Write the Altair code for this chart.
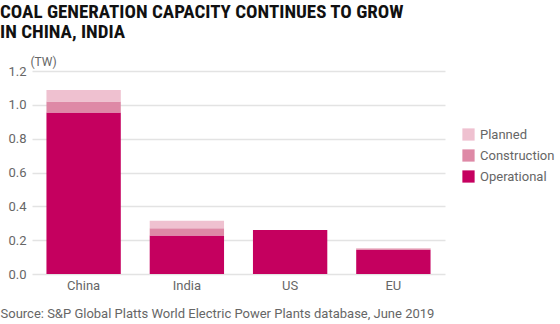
import altair as alt
import pandas as pd

countries = ["China", "India", "US", "EU"]
operational = [0.955, 0.228, 0.26, 0.144]
construction = [0.065, 0.042, 0.0, 0.007]
planned = [0.067, 0.045, 0.0, 0.003]
statuses = ["Planned", "Construction", "Operational"]
colors = ["#EFC1D0", "#DE89A6", "#C5005F"]

rows = []
for i, c in enumerate(countries):
    rows.append({"country": c, "status": "Operational", "value": operational[i], "ord": 0})
    rows.append({"country": c, "status": "Construction", "value": construction[i], "ord": 1})
    rows.append({"country": c, "status": "Planned", "value": planned[i], "ord": 2})
df = pd.DataFrame(rows)

font = "Roboto"
gray = "#666666"

chart = alt.Chart(df).mark_bar().encode(
    x=alt.X("country:N", sort=countries,
            scale=alt.Scale(paddingInner=0.28, paddingOuter=0.14),
            axis=alt.Axis(title="Source: S&P Global Platts World Electric Power Plants database, June 2019",
                          titleAnchor="start", titleAlign="left", titleX=-32, titleY=33,
                          titleFont=font, titleFontSize=13, titleFontWeight="normal", titleColor=gray,
                          labelAngle=0, labelFont=font, labelFontSize=13, labelColor=gray,
                          labelPadding=5, ticks=False, domain=False)),
    y=alt.Y("value:Q", stack="zero",
            scale=alt.Scale(domain=[0, 1.2]),
            axis=alt.Axis(title="(TW)", titleAngle=0, titleAlign="left", titleX=-2, titleY=-6,
                          titleBaseline="alphabetic", titleFont=font, titleFontSize=12,
                          titleFontWeight="normal", titleColor=gray,
                          values=[0, 0.2, 0.4, 0.6, 0.8, 1.0, 1.2], format=".1f",
                          labelFont=font, labelFontSize=13, labelColor=gray, labelPadding=6,
                          ticks=False, domain=False, gridColor="#e3e3e3", gridWidth=1.5)),
    color=alt.Color("status:N", sort=statuses,
                    scale=alt.Scale(domain=statuses, range=colors),
                    legend=alt.Legend(title=None, orient="none", legendX=430, legendY=57,
                                      symbolType="square", symbolSize=150, symbolStrokeWidth=0,
                                      labelFont=font, labelFontSize=13, labelColor=gray,
                                      rowPadding=7, labelOffset=5)),
    order=alt.Order("ord:Q", sort="ascending"),
).properties(
    width=413, height=203,
    autosize=alt.AutoSizeParams(type="none"),
    padding={"left": 32, "top": 71, "right": 115, "bottom": 50},
    title=alt.TitleParams(["COAL GENERATION CAPACITY CONTINUES TO GROW", "IN CHINA, INDIA"],
                          anchor="start", frame="group", dx=-32, offset=13,
                          font="Liberation Sans Narrow, Roboto Condensed, Roboto", fontSize=19,
                          fontWeight="bold", color="#111111", lineHeight=20),
).configure_view(stroke=None)

chart.save("out.html", embed_options={"renderer": "svg", "actions": False})
